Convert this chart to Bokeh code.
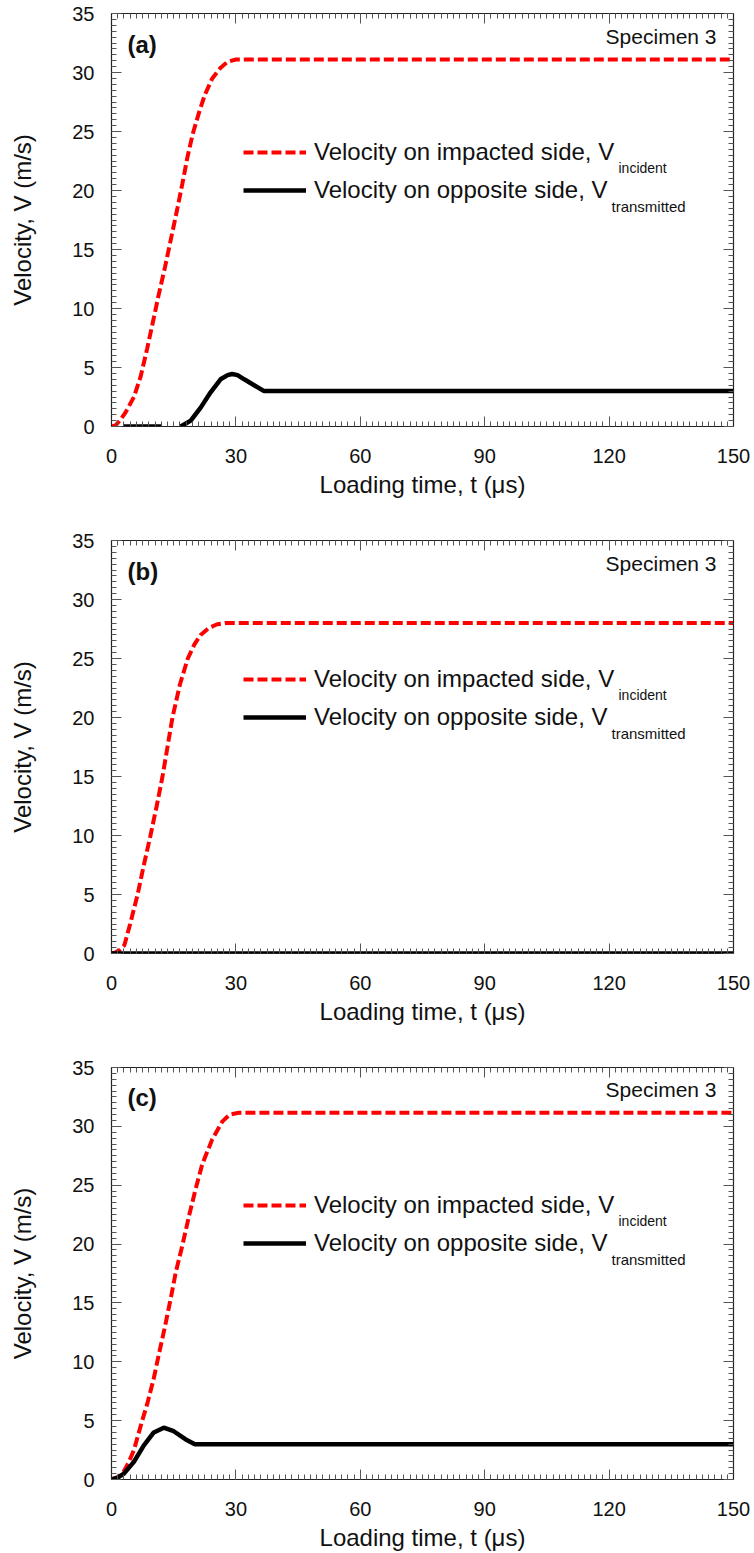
import numpy as np
from bokeh.plotting import figure
from bokeh.models import (Range1d, LinearAxis, SingleIntervalTicker, Label,
                          Legend, LegendItem, CustomLabelingPolicy)
from bokeh.layouts import column
from bokeh.embed import file_html
from bokeh.resources import INLINE

FONT = "Liberation Sans"

# ---------------- data ----------------
panel_tags = ["(a)", "(b)", "(c)"]
specimen_text = "Specimen 3"
legend_main = ["Velocity on impacted side, V", "Velocity on opposite side, V"]
legend_sub = ["incident", "transmitted"]

x_ticks_interval = 30
y_ticks_interval = 5

# panel (a)
t_inc_a = [0, 1, 2, 3.4, 5.4, 7.0, 8.6, 10.2, 11.4, 12.9, 14.4, 15.9, 17.1, 18.3,
           19.6, 21.1, 22.5, 24.3, 26.3, 28.0, 30.0, 150]
v_inc_a = [0, 0.1, 0.5, 1.2, 2.5, 4.2, 6.6, 9.2, 11.2, 13.5, 16.0, 18.5, 20.6, 22.8,
           24.8, 26.6, 28.1, 29.5, 30.4, 30.9, 31.1, 31.1]
t_tr_a = [3.0, 12.2, np.nan, 16.7, 19.1, 21.5, 23.9, 26.3, 28.0, 29.1, 30.4, 32.0,
          34.4, 36.8, 150]
v_tr_a = [0, 0, np.nan, 0, 0.5, 1.6, 2.9, 4.0, 4.35, 4.45, 4.35, 4.0, 3.5, 3.0, 3.0]

# panel (b)
t_inc_b = [0, 1, 2, 3.1, 4.5, 6.3, 7.8, 9.4, 10.9, 12.3, 13.5, 14.7, 16.5, 18.4,
           20.0, 21.5, 23.5, 25.5, 27.5, 29.5, 150]
v_inc_b = [0, 0.1, 0.3, 0.7, 2.5, 5.0, 7.5, 10.0, 12.5, 15.0, 17.5, 20.0, 22.8, 25.0,
           26.2, 27.0, 27.6, 27.9, 28.0, 28.0, 28.0]
t_tr_b = [0, 150]
v_tr_b = [0, 0]

# panel (c)
t_inc_c = [0, 1.5, 3.0, 4.2, 5.4, 7.4, 8.6, 10.2, 11.4, 12.9, 14.3, 15.5, 17.1, 18.7,
           20.3, 21.9, 24.3, 26.7, 28.5, 30.7, 150]
v_inc_c = [0, 0.2, 0.7, 1.5, 2.5, 5.0, 6.4, 8.6, 10.6, 13.0, 15.4, 17.6, 19.9, 22.4,
           24.7, 26.8, 28.9, 30.4, 31.0, 31.15, 31.15]
t_tr_c = [0, 1.5, 3.0, 5.4, 7.8, 10.2, 12.6, 15.0, 17.9, 20.1, 150]
v_tr_c = [0, 0.15, 0.5, 1.5, 2.9, 4.0, 4.4, 4.1, 3.4, 3.0, 3.0]

panels = [
    (t_inc_a, v_inc_a, t_tr_a, v_tr_a),
    (t_inc_b, v_inc_b, t_tr_b, v_tr_b),
    (t_inc_c, v_inc_c, t_tr_c, v_tr_c),
]

X_LABEL = "Loading time, t (\u03bcs)"
Y_LABEL = "Velocity, V (m/s)"

RED = "#ff0000"
BLACK = "#000000"
TICK_COL = "#555555"
AXIS_COL = "#222222"


def style_axis(ax, show_labels):
    ax.major_tick_in = 10
    ax.major_tick_out = 0
    ax.minor_tick_in = 5
    ax.minor_tick_out = 0
    ax.major_tick_line_color = TICK_COL
    ax.minor_tick_line_color = TICK_COL
    ax.major_tick_line_width = 1
    ax.minor_tick_line_width = 1
    ax.axis_line_color = AXIS_COL
    ax.axis_line_width = 1.2
    if show_labels:
        ax.major_label_text_font = FONT
        ax.major_label_text_font_size = "20px"
        ax.major_label_text_color = "#111111"
        ax.axis_label_text_font = FONT
        ax.axis_label_text_font_size = "24px"
        ax.axis_label_text_font_style = "normal"
        ax.axis_label_text_color = "#111111"
    else:
        ax.major_label_policy = CustomLabelingPolicy(code="return new Set()")
        ax.major_label_standoff = 0
        ax.axis_label = None


def make_panel(idx, height, border_bottom):
    t_inc, v_inc, t_tr, v_tr = panels[idx]
    p = figure(width=754, height=height,
               x_range=Range1d(0, 150), y_range=Range1d(0, 35),
               output_backend="svg", toolbar_location=None,
               min_border_left=111, min_border_right=21,
               min_border_top=13, min_border_bottom=border_bottom,
               x_axis_label=X_LABEL, y_axis_label=Y_LABEL)
    p.xgrid.visible = False
    p.ygrid.visible = False
    p.outline_line_color = AXIS_COL
    p.background_fill_color = "white"
    p.border_fill_color = "white"

    p.xaxis.ticker = SingleIntervalTicker(interval=x_ticks_interval, num_minor_ticks=20)
    p.yaxis.ticker = SingleIntervalTicker(interval=y_ticks_interval, num_minor_ticks=10)
    style_axis(p.xaxis[0], True)
    style_axis(p.yaxis[0], True)
    p.xaxis.major_label_standoff = 22
    p.xaxis.axis_label_standoff = 5
    p.yaxis.major_label_standoff = 17
    p.yaxis.axis_label_standoff = 33

    top = LinearAxis(ticker=SingleIntervalTicker(interval=x_ticks_interval, num_minor_ticks=20))
    right = LinearAxis(ticker=SingleIntervalTicker(interval=y_ticks_interval, num_minor_ticks=10))
    style_axis(top, False)
    style_axis(right, False)
    p.add_layout(top, "above")
    p.add_layout(right, "right")

    r_inc = p.line(np.array(t_inc, dtype=float), np.array(v_inc, dtype=float),
                   line_color=RED, line_width=4, line_dash="10 4")
    r_tr = p.line(np.array(t_tr, dtype=float), np.array(v_tr, dtype=float),
                  line_color=BLACK, line_width=4.5)

    # legends (one per row so that the rows can be placed exactly)
    for r, lab, y in [(r_inc, legend_main[0], 259), (r_tr, legend_main[1], 221)]:
        lg = Legend(items=[LegendItem(label=lab, renderers=[r])],
                    location=(132, y), padding=0, margin=0, spacing=0,
                    glyph_width=63, glyph_height=30, label_height=30,
                    label_standoff=8, label_text_font=FONT,
                    label_text_font_size="24px", label_text_color="#111111",
                    border_line_color=None, background_fill_alpha=0)
        p.add_layout(lg, "center")

    for sub, sx, sy, fs in [(legend_sub[0], 507, 259, "14px"),
                            (legend_sub[1], 500, 220, "15px")]:
        p.add_layout(Label(x=sx, y=sy, x_units="screen", y_units="screen",
                           text=sub, text_font=FONT, text_font_size=fs,
                           text_color="#111111", text_baseline="alphabetic"))

    p.add_layout(Label(x=605, y=390, x_units="screen", y_units="screen",
                       text=specimen_text, text_font=FONT, text_font_size="21px",
                       text_align="right", text_baseline="alphabetic",
                       text_color="#111111"))
    p.add_layout(Label(x=16, y=382, x_units="screen", y_units="screen",
                       text=panel_tags[idx], text_font=FONT, text_font_size="24px",
                       text_font_style="bold", text_baseline="alphabetic",
                       text_color="#111111"))
    return p


p1 = make_panel(0, 527, 101)
p2 = make_panel(1, 527, 101)
p3 = make_panel(2, 499, 73)

layout = column(p1, p2, p3, spacing=0)
open("out.html", "w").write(file_html(layout, INLINE))
